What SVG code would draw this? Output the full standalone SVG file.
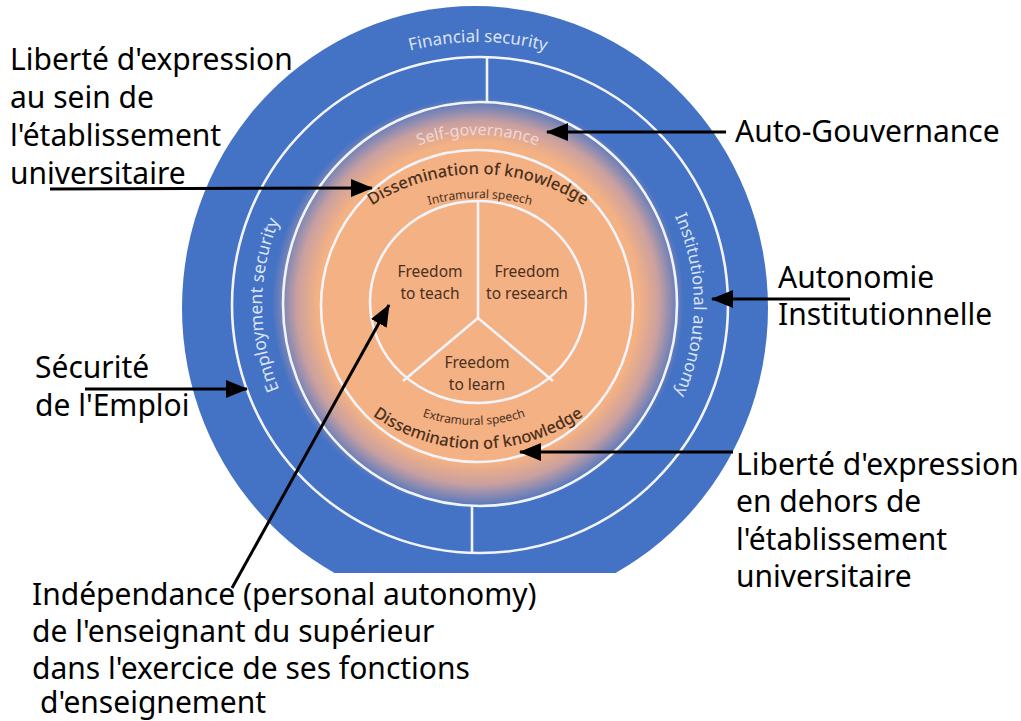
<svg xmlns="http://www.w3.org/2000/svg" width="1021" height="721" viewBox="0 0 1021 721">
<defs>
<style>
.lbl{font-family:"Noto Sans","Open Sans","DejaVu Sans",sans-serif;font-size:30px;fill:#000}
.ring{fill:none;stroke:#f2f4fa;stroke-width:2.6}
.div{stroke:#f2f4fa;stroke-width:2.6}
.wt{font-family:"Noto Sans","Open Sans",sans-serif;fill:#dbe4f5;font-size:17px}
.br{font-family:"Noto Sans","Open Sans",sans-serif;fill:#4a3020}
.arrow{stroke:#000;stroke-width:3;fill:none;marker-end:url(#ah)}
</style>
<marker id="ah" markerUnits="userSpaceOnUse" markerWidth="22" markerHeight="18" refX="21" refY="9" orient="auto">
<path d="M0,0 L22,9 L0,18 z" fill="#000"/>
</marker>
<radialGradient id="glow" gradientUnits="userSpaceOnUse" cx="478" cy="303" r="206">
<stop offset="0" stop-color="#f4b183"/>
<stop offset="0.78" stop-color="#f4b183"/>
<stop offset="0.88" stop-color="#c9a0a0"/>
<stop offset="1" stop-color="#4472c4"/>
</radialGradient>
<clipPath id="cut"><rect x="0" y="0" width="1021" height="573"/></clipPath>
<path id="pFin" d="M250.2,173.5 A263,263 0 0 1 705.8,173.5"/>
<path id="pSelf" d="M330.8,220 A170,170 0 0 1 625.2,220"/>
<path id="pEmp" d="M370,492 A216,216 0 0 1 370,118"/>
<path id="pInst" d="M586,118 A216,216 0 0 1 586,492"/>
<path id="pDisT" d="M317.3,258.6 A195,195 0 0 1 638.7,258.6"/>
<path id="pIntra" d="M357.9,242.5 A190,190 0 0 1 602.1,242.5"/>
<path id="pExtra" d="M351.4,367.8 A160,160 0 0 0 596.6,367.8"/>
<path id="pDisB" d="M327.3,370.5 A184,184 0 0 0 628.7,370.5"/>
</defs>

<g id="diagram" clip-path="url(#cut)">
<ellipse cx="475" cy="308" rx="293" ry="302" fill="#4472c4"/>
<circle cx="478" cy="303" r="206" fill="url(#glow)"/>
</g>

<g id="ring-financial">
<circle class="ring" cx="480" cy="305" r="248"/>
<line class="div" x1="487" y1="57" x2="487" y2="102"/>
<line class="div" x1="472" y1="506" x2="472" y2="553"/>
<text class="wt"><textPath href="#pFin" startOffset="50%" text-anchor="middle">Financial security</textPath></text>
</g>

<g id="ring-employment">
<text class="wt" style="font-size:17.5px"><textPath href="#pEmp" startOffset="50%" text-anchor="middle">Employment security</textPath></text>
</g>

<g id="ring-institutional">
<text class="wt"><textPath href="#pInst" startOffset="50%" text-anchor="middle">Institutional autonomy</textPath></text>
</g>

<g id="ring-selfgov">
<ellipse class="ring" cx="480" cy="304" rx="197" ry="202"/>
<text class="wt" style="fill:#f1dde2;opacity:0.9;font-size:16px"><textPath href="#pSelf" startOffset="50%" text-anchor="middle">Self-governance</textPath></text>
</g>

<g id="ring-dissemination">
<circle class="ring" cx="477" cy="306" r="156"/>
<text class="br" font-size="16.5" font-weight="500"><textPath href="#pDisT" startOffset="50%" text-anchor="middle">Dissemination of knowledge</textPath></text>
<text class="br" font-size="12"><textPath href="#pIntra" startOffset="50%" text-anchor="middle">Intramural speech</textPath></text>
<text class="br" font-size="12"><textPath href="#pExtra" startOffset="50%" text-anchor="middle">Extramural speech</textPath></text>
<text class="br" font-size="16.5" font-weight="500"><textPath href="#pDisB" startOffset="50%" text-anchor="middle">Dissemination of knowledge</textPath></text>
</g>

<g id="core">
<ellipse class="ring" cx="478" cy="302" rx="108" ry="101"/>
<line class="div" x1="478" y1="201" x2="478" y2="318"/>
<line class="div" x1="478" y1="318" x2="403" y2="381"/>
<line class="div" x1="478" y1="318" x2="553" y2="381"/>
</g>

<g id="freedom-teach">
<text class="br" font-size="15.5" text-anchor="middle" x="430" y="277">Freedom</text>
<text class="br" font-size="15.5" text-anchor="middle" x="430" y="299">to teach</text>
</g>
<g id="freedom-research">
<text class="br" font-size="15.5" text-anchor="middle" x="527" y="277">Freedom</text>
<text class="br" font-size="15.5" text-anchor="middle" x="527" y="299">to research</text>
</g>
<g id="freedom-learn">
<text class="br" font-size="15.5" text-anchor="middle" x="477" y="368">Freedom</text>
<text class="br" font-size="15.5" text-anchor="middle" x="477" y="390">to learn</text>
</g>

<g id="label-intramural">
<text class="lbl" x="10" y="70">Liberté d'expression</text>
<text class="lbl" x="10" y="108">au sein de</text>
<text class="lbl" x="10" y="146">l'établissement</text>
<text class="lbl" x="10" y="184">universitaire</text>
</g>
<g id="label-autogov">
<text class="lbl" x="735" y="142">Auto-Gouvernance</text>
</g>
<g id="label-autonomie">
<text class="lbl" x="778" y="288">Autonomie</text>
<text class="lbl" x="778" y="325">Institutionnelle</text>
</g>
<g id="label-securite">
<text class="lbl" x="35" y="378">Sécurité</text>
<text class="lbl" x="35" y="416">de l'Emploi</text>
</g>
<g id="label-extramural">
<text class="lbl" x="736" y="475">Liberté d'expression</text>
<text class="lbl" x="736" y="512">en dehors de</text>
<text class="lbl" x="736" y="550">l'établissement</text>
<text class="lbl" x="736" y="587">universitaire</text>
</g>
<g id="label-independance">
<text class="lbl" x="32" y="605">Indépendance (personal autonomy)</text>
<text class="lbl" x="32" y="642">de l'enseignant du supérieur</text>
<text class="lbl" x="32" y="679">dans l'exercice de ses fonctions</text>
<text class="lbl" x="40" y="713">d'enseignement</text>
</g>

<g id="connectors">
<line class="arrow" x1="50" y1="189" x2="372" y2="188"/>
<line class="arrow" x1="726" y1="132" x2="547" y2="132"/>
<line class="arrow" x1="850" y1="299" x2="712" y2="299"/>
<line class="arrow" x1="85" y1="389" x2="247" y2="389"/>
<line class="arrow" x1="733" y1="452" x2="520" y2="452"/>
<line class="arrow" x1="232" y1="588" x2="389" y2="305"/>
</g>
</svg>
